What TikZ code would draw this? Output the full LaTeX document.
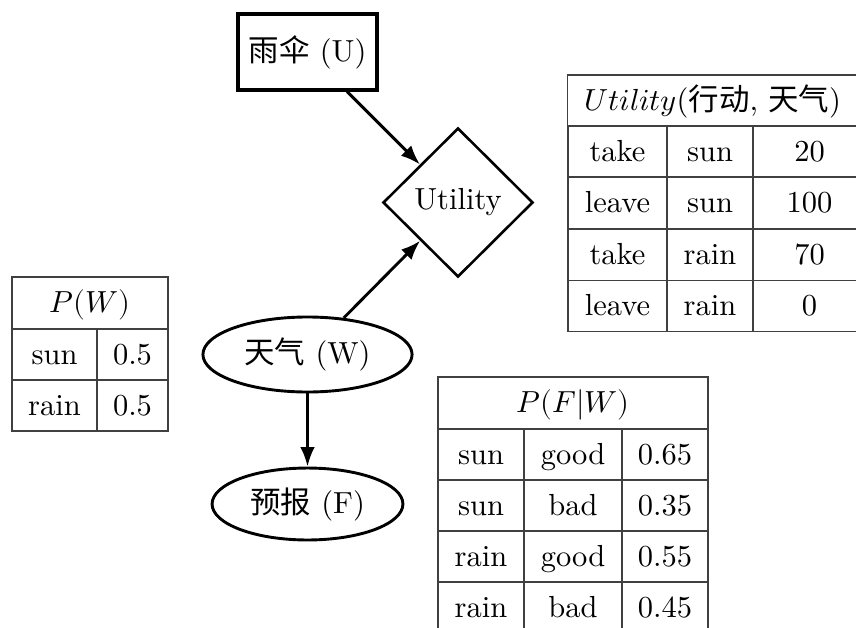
\documentclass[tikz,border=0pt]{standalone}
\usepackage{fontspec}
\usepackage{unicode-math}
\newfontfamily\cjk{Noto Sans CJK SC}
\usetikzlibrary{shapes.geometric,arrows.meta}
\begin{document}
\begin{tikzpicture}[x=0.328pt,y=-0.328pt,
  conn/.style={line width=0.95pt,-{Latex[length=6.4pt,width=4.8pt]}},
  ubox/.style={draw,line width=1.05pt,rectangle,minimum width=45.6pt,minimum height=24.9pt,inner sep=2pt},
  dia/.style={draw,line width=0.85pt,diamond,minimum width=49.2pt,minimum height=48.9pt,inner sep=2pt},
  ell/.style={draw,line width=0.95pt,ellipse,inner sep=1pt},
  cell/.style={draw=black!75,line width=0.45pt,rectangle,inner sep=0pt,minimum height=16.8pt,text height=7.5pt,text depth=1pt},
]
\useasboundingbox (0,0) rectangle (856,627);
\clip (0,0) rectangle (856,627);

% decision network nodes
\node[ubox] (U) at (307.5,52) {{\cjk 雨伞} (U)};
\node[dia] (Ut) at (458,202.5) {Utility};
\node[ell,minimum width=68.6pt,minimum height=24.6pt] (W) at (307.5,354.5) {{\cjk 天气} (W)};
\node[ell,minimum width=62.6pt,minimum height=23.6pt] (F) at (307.5,504) {{\cjk 预报} (F)};

\draw[conn] (U) -- (Ut);
\draw[conn] (W) -- (Ut);
\draw[conn] (W) -- (F);

% P(W) table
\node[cell,minimum width=51.2pt,minimum height=17.1pt] (pwh) at (90,303) {$P(W)$};
\node[cell,minimum width=27.9pt] (pw11) at (54.5,354.5) {sun};
\node[cell,minimum width=23.3pt] (pw12) at (132.5,354.5) {0.5};
\node[cell,minimum width=27.9pt] (pw21) at (54.5,405.5) {rain};
\node[cell,minimum width=23.3pt] (pw22) at (132.5,405.5) {0.5};

% Utility table
\node[cell,minimum width=98.1pt,minimum height=16.7pt] (uth) at (717,100.5) {\hspace*{-6\pgflinewidth}$Utility$({\cjk 行动}, {\cjk 天气})};
\node[cell,minimum width=32.5pt] (ut11) at (617.5,151.5) {take};
\node[cell,minimum width=28.2pt] (ut12) at (710,151.5) {sun};
\node[cell,minimum width=37.4pt] (ut13) at (809.5,151.5) {20};
\node[cell,minimum width=32.5pt] (ut21) at (617.5,203) {leave};
\node[cell,minimum width=28.2pt] (ut22) at (710,203) {sun};
\node[cell,minimum width=37.4pt] (ut23) at (809.5,203) {100};
\node[cell,minimum width=32.5pt] (ut31) at (617.5,255) {take};
\node[cell,minimum width=28.2pt] (ut32) at (710,255) {rain};
\node[cell,minimum width=37.4pt] (ut33) at (809.5,255) {70};
\node[cell,minimum width=32.5pt] (ut41) at (617.5,306) {leave};
\node[cell,minimum width=28.2pt] (ut42) at (710,306) {rain};
\node[cell,minimum width=37.4pt] (ut43) at (809.5,306) {0};

% P(F|W) table
\node[cell,minimum width=88.6pt,minimum height=17.1pt] (pfh) at (573,403) {$P(F|W)$};
\node[cell,minimum width=28.2pt] (pf11) at (481,454.5) {sun};
\node[cell,minimum width=32.1pt] (pf12) at (573,454.5) {good};
\node[cell,minimum width=28.2pt] (pf13) at (665,454.5) {0.65};
\node[cell,minimum width=28.2pt] (pf21) at (481,505.5) {sun};
\node[cell,minimum width=32.1pt] (pf22) at (573,505.5) {bad};
\node[cell,minimum width=28.2pt] (pf23) at (665,505.5) {0.35};
\node[cell,minimum width=28.2pt] (pf31) at (481,556.5) {rain};
\node[cell,minimum width=32.1pt] (pf32) at (573,556.5) {good};
\node[cell,minimum width=28.2pt] (pf33) at (665,556.5) {0.55};
\node[cell,minimum width=28.2pt] (pf41) at (481,607.5) {rain};
\node[cell,minimum width=32.1pt] (pf42) at (573,607.5) {bad};
\node[cell,minimum width=28.2pt] (pf43) at (665,607.5) {0.45};
\end{tikzpicture}
\end{document}
